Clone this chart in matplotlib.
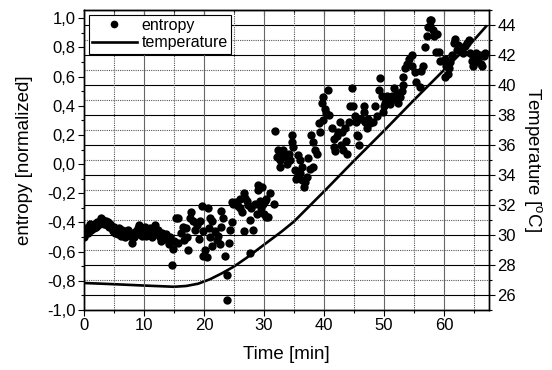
import matplotlib
matplotlib.use("Agg")
import matplotlib.pyplot as plt
from matplotlib.lines import Line2D
from matplotlib.ticker import MultipleLocator, FuncFormatter

plt.rcParams['font.family'] = ['Liberation Sans', 'DejaVu Sans']
plt.rcParams['mathtext.fontset'] = 'custom'
plt.rcParams['mathtext.rm'] = 'Liberation Sans'

# entropy, steady band at the start
band_time = [0.0, 0.2, 0.4, 0.6, 0.8, 1.0, 1.2, 1.4, 1.6, 1.8, 2.0, 2.2, 2.4, 2.6, 2.8,
             3.0, 3.2, 3.4, 3.6, 3.8, 4.0, 4.2, 4.4, 4.6, 4.8, 5.0, 5.2, 5.4, 5.6, 5.8,
             6.0, 6.2, 6.4, 6.6, 6.8, 7.0, 7.2, 7.4, 7.6, 7.8, 8.0, 8.2, 8.4, 8.6, 8.8,
             9.0, 9.2, 9.4, 9.6, 9.8, 10.0, 10.2, 10.4, 10.6, 10.8, 11.0, 11.2, 11.4,
             11.6, 11.8, 12.0, 12.2, 12.4, 12.6, 12.8, 13.0, 13.2, 13.4, 13.6, 13.8,
             14.0, 14.2, 14.4, 14.6, 14.8, 15.0]
band_entropy = [-0.50, -0.46, -0.44, -0.47, -0.43, -0.41, -0.45, -0.42, -0.44, -0.41,
                -0.43, -0.40, -0.42, -0.39, -0.37, -0.40, -0.38, -0.41, -0.39, -0.42,
                -0.40, -0.43, -0.41, -0.44, -0.46, -0.43, -0.47, -0.45, -0.48, -0.44,
                -0.46, -0.49, -0.45, -0.47, -0.50, -0.46, -0.48, -0.45, -0.49, -0.47,
                -0.54, -0.48, -0.50, -0.46, -0.48, -0.44, -0.42, -0.46, -0.49, -0.45,
                -0.47, -0.43, -0.49, -0.46, -0.48, -0.44, -0.47, -0.50, -0.45, -0.42,
                -0.46, -0.48, -0.45, -0.50, -0.53, -0.47, -0.49, -0.51, -0.48, -0.50,
                -0.52, -0.55, -0.50, -0.69, -0.58, -0.53]

# entropy, scattered part after heating starts
scatter_time = [15.4, 15.6, 15.7, 16.2, 16.5, 16.6, 17.0, 17.2, 17.4, 17.7, 17.9, 18.2,
                18.5, 18.8, 19.1, 19.3, 19.6, 19.9, 19.9, 20.2, 20.5, 20.7, 20.9, 21.0,
                21.0, 21.3, 21.3, 21.8, 22.1, 22.3, 22.7, 22.9, 22.9, 23.2, 23.5, 23.8,
                23.8, 24.1, 24.3, 24.6, 24.6, 24.9, 25.4, 25.7, 26.0, 26.0, 26.3, 26.6,
                26.6, 26.8, 27.1, 27.4, 27.7, 27.7, 27.9, 28.2, 28.5, 28.8, 29.0, 29.0,
                29.3, 29.5, 29.6, 29.9, 30.0, 30.2, 30.4, 30.4, 30.7, 31.0, 31.6, 31.8,
                32.2, 32.4, 32.7, 32.7, 33.0, 33.2, 33.5, 33.8, 34.1, 34.3, 34.6, 34.6,
                34.9, 35.2, 35.4, 35.6, 35.7, 36.0, 36.0, 36.3, 36.4, 36.6, 36.8, 37.1,
                37.4, 37.6, 37.9, 38.2, 38.2, 38.5, 38.8, 39.1, 39.3, 39.6, 39.9, 39.9,
                40.2, 40.4, 40.7, 40.9, 41.3, 41.6, 41.6, 41.8, 42.1, 42.4, 42.7, 42.9,
                43.0, 43.2, 43.5, 43.6, 43.8, 44.1, 44.3, 44.6, 44.9, 45.2, 45.3, 45.5,
                45.7, 45.9, 46.2, 46.6, 46.6, 46.8, 47.1, 47.4, 47.7, 48.2, 48.5, 48.8,
                49.1, 49.3, 49.6, 49.9, 50.0, 50.2, 50.5, 50.7, 51.0, 51.3, 51.6, 51.9,
                52.1, 52.4, 52.7, 53.0, 53.2, 53.2, 53.5, 53.8, 54.1, 54.6, 54.6, 55.2,
                55.4, 56.0, 56.2, 56.5, 56.8, 57.1, 57.3, 57.6, 57.7, 57.9, 58.2, 58.4,
                58.7, 58.8, 59.1, 59.3, 60.2, 60.2, 60.4, 60.7, 60.9, 61.0, 61.3, 61.6,
                61.8, 62.1, 62.4, 62.7, 63.0, 63.2, 63.5, 63.8, 64.1, 64.3, 64.6, 64.9,
                64.9, 65.2, 65.4, 65.7, 66.0, 66.1, 66.3, 66.6, 66.9]
scatter_entropy = [-0.37, -0.54, -0.37, -0.47, -0.43, -0.52, -0.44, -0.50, -0.59, -0.37,
                   -0.33, -0.39, -0.45, -0.42, -0.51, -0.39, -0.29, -0.46, -0.63, -0.59,
                   -0.64, -0.30, -0.44, -0.37, -0.50, -0.39, -0.56, -0.46, -0.52, -0.49,
                   -0.55, -0.32, -0.43, -0.37, -0.63, -0.76, -0.93, -0.54, -0.45, -0.40,
                   -0.26, -0.27, -0.26, -0.29, -0.24, -0.30, -0.33, -0.20, -0.46, -0.23,
                   -0.25, -0.28, -0.38, -0.61, -0.30, -0.45, -0.27, -0.34, -0.14, -0.18,
                   -0.25, -0.30, -0.16, -0.27, -0.34, -0.25, -0.24, -0.36, -0.36, -0.20,
                   -0.27, 0.23, 0.05, 0.10, 0.03, -0.02, 0.06, 0.10, 0.05, 0.00,
                   0.07, 0.03, 0.20, 0.15, 0.12, -0.04, -0.10, -0.08, 0.06, 0.03,
                   -0.06, -0.11, -0.02, -0.16, -0.12, -0.09, 0.04, -0.03, 0.20, 0.15,
                   -0.02, 0.10, 0.07, 0.28, 0.22, 0.42, 0.46, 0.30, 0.38, 0.35,
                   0.51, 0.34, 0.25, 0.17, 0.12, 0.09, 0.19, 0.22, 0.29, 0.13,
                   0.22, 0.10, 0.25, 0.16, 0.07, 0.29, 0.40, 0.52, 0.40, 0.33,
                   0.29, 0.20, 0.19, 0.13, 0.31, 0.40, 0.36, 0.29, 0.25, 0.31,
                   0.28, 0.29, 0.40, 0.33, 0.51, 0.59, 0.47, 0.36, 0.40, 0.42,
                   0.47, 0.43, 0.41, 0.47, 0.52, 0.45, 0.49, 0.42, 0.46, 0.50,
                   0.54, 0.60, 0.66, 0.69, 0.72, 0.75, 0.67, 0.63, 0.56, 0.53,
                   0.64, 0.67, 0.80, 0.88, 0.94, 0.99, 0.95, 0.99, 0.92, 0.88,
                   0.77, 0.89, 0.77, 0.71, 0.72, 0.60, 0.67, 0.62, 0.66, 0.70,
                   0.75, 0.83, 0.86, 0.78, 0.82, 0.80, 0.79, 0.76, 0.81, 0.83,
                   0.85, 0.76, 0.71, 0.67, 0.74, 0.70, 0.76, 0.72, 0.75, 0.69,
                   0.67, 0.74, 0.76]

temp_time = [0, 5, 10, 15, 17, 19, 21, 23, 25, 27, 29, 31, 33, 35, 40, 45, 50, 55, 60, 65, 67]
temp_values = [26.8, 26.72, 26.63, 26.55, 26.6, 26.75, 27.05, 27.45, 27.9, 28.45, 29.05,
               29.65, 30.25, 30.9, 32.9, 34.95, 36.95, 39.0, 41.0, 43.0, 43.9]

entropy_time = band_time + scatter_time
entropy_values = band_entropy + scatter_entropy


def comma(v, pos):
    if abs(v) < 1e-9:
        v = 0.0
    return f"{v:.1f}".replace('.', ',')


fig = plt.figure(figsize=(5.52, 3.70), dpi=100)
ax = fig.add_axes([84 / 552, 60 / 370, 405 / 552, 300 / 370])
ax2 = ax.twinx()
ax.set_zorder(ax2.get_zorder() + 1)
ax.patch.set_visible(False)

# temperature on the right axis, carries the horizontal grid
ax2.plot(temp_time, temp_values, color='black', lw=1.9)
ax2.set_ylim(25, 45)
ax2.yaxis.set_major_locator(MultipleLocator(2))
ax2.yaxis.set_minor_locator(MultipleLocator(1))
ax2.yaxis.grid(True, which='major', color='black', lw=0.8, ls='-')
ax2.yaxis.grid(True, which='minor', color='#555555', lw=0.8, ls=(0, (1, 1)))
ax2.tick_params(axis='y', which='major', direction='out', length=4, width=0.8, labelsize=12, pad=2)
ax2.tick_params(axis='y', which='minor', direction='out', length=2.5, width=0.8)
ax2.set_ylabel('Temperature [$^\\mathrm{o}$C]', fontsize=13.5, rotation=270, labelpad=20)

ax.scatter(entropy_time, entropy_values, s=36, color='black', linewidths=0, zorder=3)
ax.set_xlim(0, 67.5)
ax.set_ylim(-1.0, 1.057)
ax.xaxis.set_major_locator(MultipleLocator(10))
ax.xaxis.set_minor_locator(MultipleLocator(5))
ax.yaxis.set_major_locator(MultipleLocator(0.2))
ax.yaxis.set_minor_locator(MultipleLocator(0.1))
ax.yaxis.set_major_formatter(FuncFormatter(comma))
ax.xaxis.grid(True, which='major', color='#666666', lw=0.8, ls='-')
ax.xaxis.grid(True, which='minor', color='#555555', lw=0.8, ls=(0, (1, 1)))
ax.tick_params(which='major', direction='out', length=4, width=0.8, labelsize=12, pad=2)
ax.tick_params(which='minor', direction='out', length=2.5, width=0.8)
ax.set_xlabel('Time [min]', fontsize=13.5, labelpad=9)
ax.set_ylabel('entropy [normalized]', fontsize=13.5, labelpad=10)

top = ax.secondary_xaxis('top')
top.xaxis.set_major_locator(MultipleLocator(10))
top.xaxis.set_minor_locator(MultipleLocator(5))
top.tick_params(which='major', direction='in', length=4, width=0.8, labeltop=False)
top.tick_params(which='minor', direction='in', length=2.5, width=0.8)

for a in (ax, ax2):
    for s in a.spines.values():
        s.set_linewidth(1.0)

handles = [Line2D([], [], marker='o', color='black', ls='none', markersize=4.5),
           Line2D([], [], color='black', lw=1.9)]
leg = ax.legend(handles, ['entropy', 'temperature'], loc='upper left', fontsize=11.5,
                fancybox=False, framealpha=1, edgecolor='black', borderaxespad=0.3,
                handlelength=2.8, handletextpad=0.3, borderpad=0.2, labelspacing=0.15)
leg.get_frame().set_linewidth(0.8)

fig.savefig('out.png', dpi=100)
